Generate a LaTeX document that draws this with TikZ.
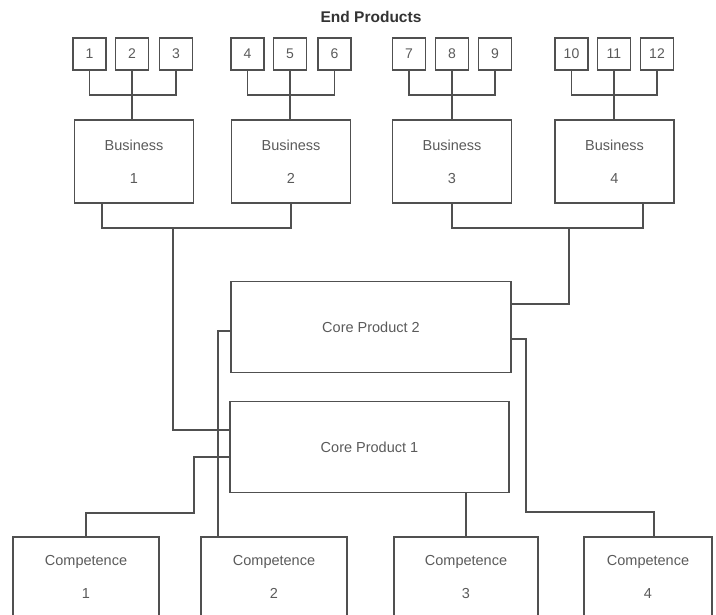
\documentclass[tikz,border=0pt]{standalone}
\usepackage{fontspec}
\setmainfont{Liberation Sans}
\definecolor{linegray}{HTML}{505050}
\definecolor{textgray}{HTML}{5A5A5A}
\definecolor{titlegray}{HTML}{333333}
\begin{document}
\begin{tikzpicture}[x=1pt, y=-1pt,
    line/.style={draw=linegray, line width=1.2pt},
    prod/.style={rectangle, draw=linegray, line width=1.2pt, minimum width=33pt, minimum height=32pt, inner sep=0pt, text=textgray, font=\fontsize{14}{17}\selectfont},
    biz/.style={rectangle, draw=linegray, line width=1.2pt, minimum width=119pt, minimum height=83pt, align=center, text=textgray, font=\fontsize{14.5}{17}\selectfont},
    core/.style={rectangle, draw=linegray, line width=1.2pt, minimum height=91pt, text=textgray, font=\fontsize{14.5}{17}\selectfont},
    comp/.style={rectangle, draw=linegray, line width=1.2pt, minimum height=80pt, align=center, text=textgray, font=\fontsize{14.5}{17}\selectfont}]
    \useasboundingbox (0,0) rectangle (716,615);
    \node[font=\bfseries\fontsize{15.5}{18}\selectfont, text=titlegray] (title) at (371,17) {End Products};
    \node[prod] (e1) at (89.5,54) {1};
    \node[prod] (e2) at (132,54) {2};
    \node[prod] (e3) at (176,54) {3};
    \node[prod] (e4) at (247.5,54) {4};
    \node[prod] (e5) at (290,54) {5};
    \node[prod] (e6) at (334.5,54) {6};
    \node[prod] (e7) at (409,54) {7};
    \node[prod] (e8) at (452,54) {8};
    \node[prod] (e9) at (495,54) {9};
    \node[prod] (e10) at (571.5,54) {10};
    \node[prod] (e11) at (614,54) {11};
    \node[prod] (e12) at (657,54) {12};
    \node[biz] (b1) at (134,161.5) {Business\\[16pt]1};
    \node[biz] (b2) at (291,161.5) {Business\\[16pt]2};
    \node[biz] (b3) at (452,161.5) {Business\\[16pt]3};
    \node[biz] (b4) at (614.5,161.5) {Business\\[16pt]4};
    \node[core, minimum width=280pt] (cp2) at (371,327) {Core Product 2};
    \node[core, minimum width=279pt] (cp1) at (369.5,447) {Core Product 1};
    \node[comp, minimum width=146pt] (c1) at (86,577) {Competence\\[16pt]1};
    \node[comp, minimum width=146pt] (c2) at (274,577) {Competence\\[16pt]2};
    \node[comp, minimum width=144pt] (c3) at (466,577) {Competence\\[16pt]3};
    \node[comp, minimum width=128pt] (c4) at (648,577) {Competence\\[16pt]4};
    \coordinate (j1) at (133,95);
    \coordinate (j2) at (290,95);
    \coordinate (j3) at (452,95);
    \coordinate (j4) at (614,95);
    \draw[line] (e1.south) |- (j1) -| (e3.south);
    \draw[line] (e2.south) -- (e2.south |- b1.north);
    \draw[line] (e4.south) |- (j2) -| (e6.south);
    \draw[line] (e5.south) -- (e5.south |- b2.north);
    \draw[line] (e7.south) |- (j3) -| (e9.south);
    \draw[line] (e8.south) -- (e8.south |- b3.north);
    \draw[line] (e10.south) |- (j4) -| (e12.south);
    \draw[line] (e11.south) -- (e11.south |- b4.north);
    \coordinate (k1) at (173,228);
    \coordinate (k2) at (569,228);
    \draw[line] ([xshift=-32pt]b1.south) |- (k1) -| (b2.south);
    \draw[line] (k1) |- ([yshift=17pt]cp1.west);
    \draw[line] (b3.south) |- (k2) -| ([xshift=28.5pt]b4.south);
    \draw[line] (k2) |- ([yshift=23pt]cp2.east);
    \coordinate (m1) at (194,513);
    \coordinate (m2) at (526,512);
    \draw[line] ([yshift=-4pt]cp2.west) -| ([xshift=-56pt]c2.north);
    \draw[line] ([yshift=-12pt]cp2.east) -| (m2) -| ([xshift=6pt]c4.north);
    \draw[line] ([yshift=-10pt]cp1.west) -| (m1) -| (c1.north);
    \draw[line] (c3.north |- cp1.south) -- (c3.north);
\end{tikzpicture}
\end{document}
